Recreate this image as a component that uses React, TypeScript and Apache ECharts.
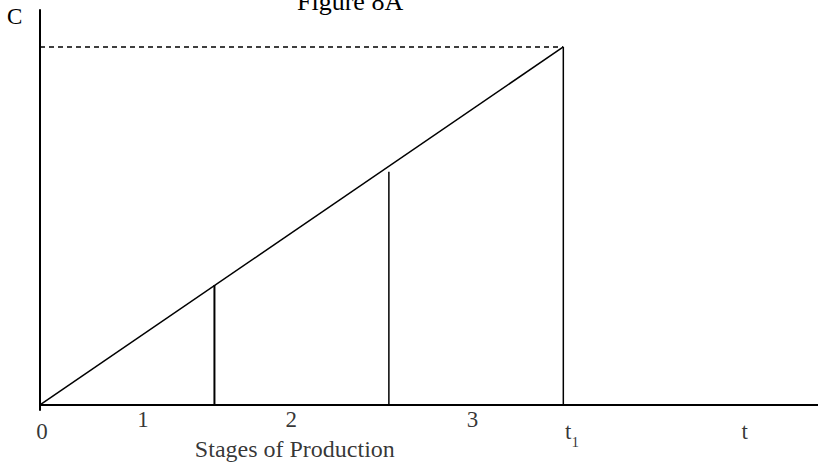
import React, { useEffect, useRef } from "react";
import * as echarts from "echarts";

const FONT = "'Liberation Serif', 'Times New Roman', serif";

// Cost line C(t) rising linearly from 0 to C at t1
const diagonal: number[][] = [[0, 0], [3, 1]];
const capLine: number[][] = [[0, 1], [3, 1]];
// Stage boundaries (vertical lines)
const stage1End: number[][] = [[1, 0], [1, 0.335]];
const stage2End: number[][] = [[2, 0], [2, 0.651]];
const t1Line: number[][] = [[3, 0], [3, 1]];

// Stage number labels
const stageLabels = ["1", "2", "3"];
const stageLabelX = [0.59, 1.44, 2.48];
const stageLabelY = -0.04;

// Axis point labels
const axisLabels = ["0", "t1", "t"];
const axisLabelX = [0.012, 3.05, 4.04];
const axisLabelY = -0.075;

const xTitle = "Stages of Production";
const xTitlePos = [1.461, -0.123];

export default function App() {
  const ref = useRef<HTMLDivElement>(null);
  useEffect(() => {
    if (!ref.current) return;
    const chart = echarts.init(ref.current, null, { renderer: "svg" });
    const seg = (data: number[][], width: number, type: any = "solid") => ({
      type: "line",
      data,
      symbol: "none",
      silent: true,
      clip: false,
      lineStyle: { color: "#000", width, type },
    });
    const labelSeries = (names: string[], xs: number[], y: number, size = 23) => ({
      type: "scatter",
      clip: false,
      silent: true,
      symbolSize: 1,
      itemStyle: { color: "rgba(0,0,0,0)" },
      data: names.map((n, i) => ({ value: [xs[i], y], name: n })),
      label: {
        show: true,
        position: "inside",
        color: "#000",
        fontFamily: FONT,
        fontSize: size,
        formatter: (p: any) => (p.name === "t1" ? "{m|t}{s|1}" : p.name),
        rich: {
          m: { fontFamily: FONT, fontSize: size, color: "#000", verticalAlign: "middle" },
          s: { fontFamily: FONT, fontSize: 15, color: "#000", verticalAlign: "bottom", padding: [0, 0, -6, 0] },
        },
      },
    });
    chart.setOption({
      animation: false,
      backgroundColor: "#fff",
      title: {
        text: "Figure 8A",
        left: 292,
        top: -17,
        textStyle: { fontFamily: FONT, fontSize: 26, fontWeight: "normal", color: "#000" },
      },
      graphic: [
        {
          type: "text",
          left: 7,
          top: 5,
          style: { text: "C", fontFamily: FONT, fontSize: 23, fill: "#000" },
        },
      ],
      grid: { left: 40, right: 0, top: 10, bottom: 57, containLabel: false },
      xAxis: {
        type: "value",
        min: 0,
        max: 4.46,
        axisLine: { show: true, onZero: true, lineStyle: { color: "#000", width: 2 } },
        axisTick: { show: false },
        axisLabel: { show: false },
        splitLine: { show: false },
      },
      yAxis: {
        type: "value",
        min: -0.014,
        max: 1.103,
        axisLine: { show: true, onZero: true, lineStyle: { color: "#000", width: 2 } },
        axisTick: { show: false },
        axisLabel: { show: false },
        splitLine: { show: false },
      },
      series: [
        seg(diagonal, 1.5),
        seg(capLine, 1.5, [5, 4]),
        seg(stage1End, 2),
        seg(stage2End, 1.5),
        seg(t1Line, 1.5),
        labelSeries(stageLabels, stageLabelX, stageLabelY),
        labelSeries(axisLabels, axisLabelX, axisLabelY),
        labelSeries([xTitle], [xTitlePos[0]], xTitlePos[1], 24),
      ],
    });
    return () => chart.dispose();
  }, []);
  return (
    <div
      ref={ref}
      style={{ position: "fixed", left: 0, top: 0, width: 818, height: 467, background: "#fff" }}
    />
  );
}
